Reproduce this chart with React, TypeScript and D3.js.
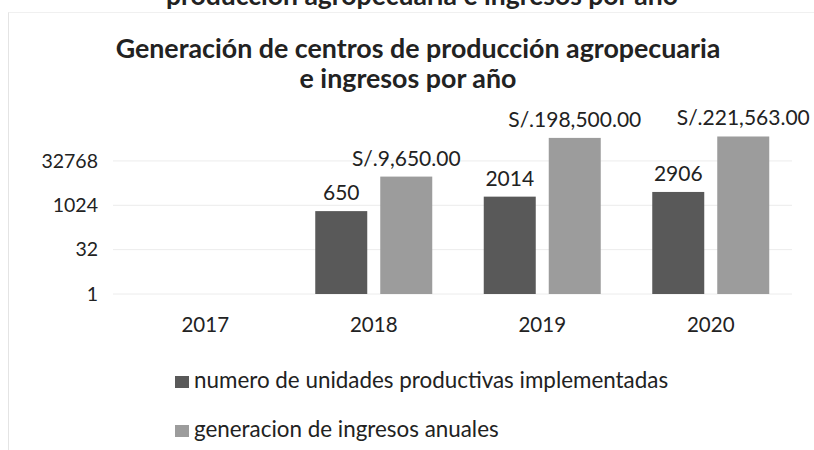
import React from "react";
import * as d3 from "d3";

const years = ["2017", "2018", "2019", "2020"];
const seriesNames = [
  "numero de unidades productivas implementadas",
  "generacion de ingresos anuales",
];
const unidades: (number | null)[] = [null, 650, 2014, 2906];
const ingresos: (number | null)[] = [null, 9650, 198500, 221563];
const unidadesLabels = ["", "650", "2014", "2906"];
const ingresosLabels = ["", "S/.9,650.00", "S/.198,500.00", "S/.221,563.00"];
const yTicks = [1, 32, 1024, 32768];
const colors = ["#595959", "#9c9c9c"];

const W = 814;
const H = 450;
const FONT = "Lato, 'Open Sans', sans-serif";

export default function App() {
  const y = d3.scaleLog().base(2).domain([1, 1048576]).range([294, 116.6]);
  const x0 = d3.scaleBand<string>().domain(years).range([121, 795]).paddingInner(0).paddingOuter(0);
  const x1 = d3
    .scaleBand<string>()
    .domain(seriesNames)
    .range([25.75, x0.bandwidth() - 25.75])
    .paddingInner(0.2)
    .paddingOuter(0);
  const series = [unidades, ingresos];
  const labels = [unidadesLabels, ingresosLabels];
  const textColor = "#222";

  return (
    <svg
      width={W}
      height={H}
      style={{ position: "absolute", left: 0, top: 0, background: "#fff" }}
      fontFamily={FONT}
    >
      <rect x={0} y={0} width={W} height={H} fill="#fff" />
      {/* faint frame of the surrounding chart object */}
      <line x1={8.5} y1={12} x2={8.5} y2={H} stroke="#e4e4e4" />
      <line x1={8.5} y1={12.5} x2={W} y2={12.5} stroke="#f0f0f0" />
      {/* cut-off text above */}
      <text x={422} y={5} textAnchor="middle" fontSize={26.5} fontWeight="bold" fill={textColor}>
        producción agropecuaria e ingresos por año
      </text>
      {/* title */}
      <text x={418} y={58} textAnchor="middle" fontSize={26.8} fontWeight="bold" fill={textColor}>
        Generación de centros de producción agropecuaria
      </text>
      <text x={408} y={88} textAnchor="middle" fontSize={26.8} fontWeight="bold" fill={textColor}>
        e ingresos por año
      </text>
      {/* gridlines */}
      {yTicks.map((t) => (
        <line key={t} x1={113} x2={792} y1={y(t)} y2={y(t)} stroke="#ececec" strokeWidth={1} />
      ))}
      {/* y labels */}
      {yTicks.map((t) => (
        <text key={"l" + t} x={98} y={y(t)} dy="0.35em" textAnchor="end" fontSize={19.5} fill={textColor}>
          {t}
        </text>
      ))}
      {/* bars */}
      {years.map((yr, i) => (
        <g key={yr} transform={`translate(${x0(yr)},0)`}>
          {series.map((s, j) => {
            const v = s[i];
            if (v == null) return null;
            const bx = x1(seriesNames[j])!;
            const top = y(v);
            return (
              <g key={j}>
                <rect x={bx} y={top} width={x1.bandwidth()} height={y(1) - top} fill={colors[j]} />
                <text
                  x={bx + x1.bandwidth() / 2}
                  y={top - 11}
                  textAnchor="middle"
                  fontSize={21}
                  fill={textColor}
                >
                  {labels[j][i]}
                </text>
              </g>
            );
          })}
        </g>
      ))}
      {/* x labels */}
      {years.map((yr) => (
        <text
          key={"x" + yr}
          x={x0(yr)! + x0.bandwidth() / 2}
          y={332}
          textAnchor="middle"
          fontSize={20.5}
          fill={textColor}
        >
          {yr}
        </text>
      ))}
      {/* legend */}
      {seriesNames.map((n, j) => (
        <g key={n} transform={`translate(175,${376 + j * 49})`}>
          <rect x={0} y={0} width={14} height={12} fill={colors[j]} />
          <text x={19} y={12} fontSize={22.4} fill={textColor}>
            {n}
          </text>
        </g>
      ))}
    </svg>
  );
}
